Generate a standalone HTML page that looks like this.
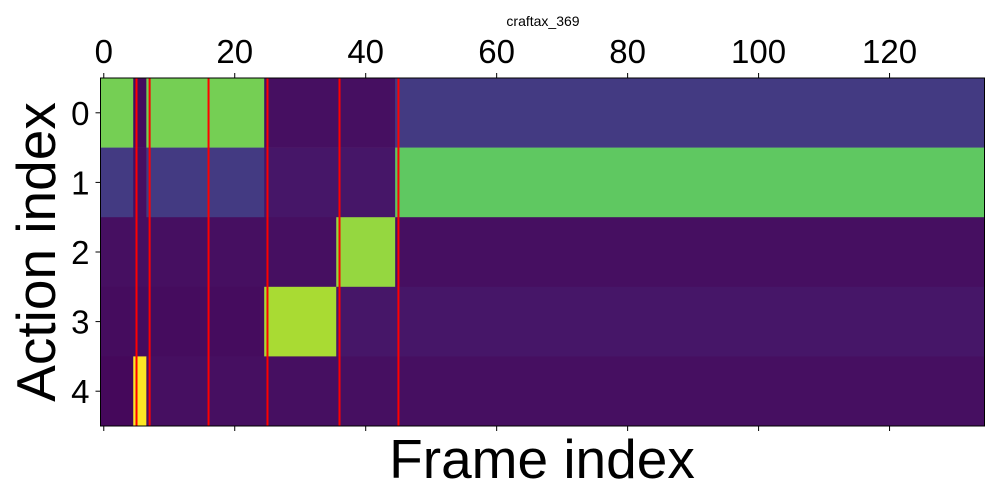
<!DOCTYPE html>
<html><head><meta charset="utf-8"><style>
html,body{margin:0;padding:0;background:#fff;width:1000px;height:500px;overflow:hidden}
svg text{font-family:"Liberation Sans","DejaVu Sans",sans-serif;fill:#000}
</style></head><body>
<svg id="chart" width="1000" height="500">
<text x="543" y="26" font-size="14" text-anchor="middle">craftax_369</text>
<g id="cells"></g>
<g id="lines"></g>
<rect x="100.5" y="78" width="884" height="348" fill="none" stroke="#000" stroke-width="1"/>
<g id="axes"></g>
<text x="542" y="478" font-size="55" text-anchor="middle">Frame index</text>
<text transform="translate(55,252) rotate(-90)" font-size="55" text-anchor="middle">Action index</text>
</svg>
<script>
// run-length rows: [value, count]
const row0 = [[0.79,5],[0.03,2],[0.79,18],[0.04,20],[0.17,90]];
const row1 = [[0.17,5],[0.04,2],[0.17,18],[0.06,20],[0.75,90]];
const row2 = [[0.04,36],[0.84,9],[0.04,90]];
const row3 = [[0.03,25],[0.87,11],[0.06,99]];
const row4 = [[0.02,5],[1.0,2],[0.04,128]];
const rows = [row0,row1,row2,row3,row4];
const eventFrames = [5,7,16,25,36,45];
const xTicks = [0,20,40,60,80,100,120];
const yTicks = [0,1,2,3,4];
const nFrames = 135;

const L=100.5,R=984.5,T=78,B=426;
const xs = f => L + (f+0.5)*(R-L)/nFrames;
const ys = r => T + (r+0.5)*(B-T)/rows.length;
const cw=(R-L)/nFrames, rh=(B-T)/rows.length;

const vir=[[68,1,84],[72,36,117],[65,68,135],[53,95,141],[42,120,142],[33,145,140],[34,168,132],[68,191,112],[122,209,81],[189,223,38],[253,231,37]];
function viridis(v){v=Math.max(0,Math.min(1,v));const p=v*10,i=Math.min(9,Math.floor(p)),t=p-i;
 const c=vir[i].map((a,k)=>Math.round(a+(vir[i+1][k]-a)*t));return `rgb(${c})`;}

const NS="http://www.w3.org/2000/svg";
const cells=document.getElementById('cells');
rows.forEach((row,r)=>{let f=0;row.forEach(([v,n])=>{
 const el=document.createElementNS(NS,'rect');
 
 
 el.setAttribute('x',xs(f)-cw/2);el.setAttribute('width',cw*n+0.3);
 el.setAttribute('y',ys(r)-rh/2);el.setAttribute('height',rh+0.3);
 el.setAttribute('fill',viridis(v));cells.appendChild(el);f+=n;});});

const lines=document.getElementById('lines');
eventFrames.forEach(f=>{const el=document.createElementNS(NS,'line');
 
 
 el.setAttribute('x1',xs(f));el.setAttribute('x2',xs(f));el.setAttribute('y1',T);el.setAttribute('y2',B);
 el.setAttribute('stroke','#f00');el.setAttribute('stroke-width','2');lines.appendChild(el);});

const axes=document.getElementById('axes');
xTicks.forEach(t=>{const x=xs(t);
 [[T,T-5],[B,B+5]].forEach(([a,b])=>{const el=document.createElementNS(NS,'line');
  
  
  el.setAttribute('x1',x);el.setAttribute('x2',x);el.setAttribute('y1',a);el.setAttribute('y2',b);el.setAttribute('stroke','#000');axes.appendChild(el);});
 const tx=document.createElementNS(NS,'text');
 
 
 tx.setAttribute('x',x);tx.setAttribute('y',T-15);tx.setAttribute('font-size','33');tx.setAttribute('text-anchor','middle');
 tx.textContent=t;axes.appendChild(tx);});
yTicks.forEach(t=>{const y=ys(t);
 const el=document.createElementNS(NS,'line');
 
 
 el.setAttribute('x1',L-5);el.setAttribute('x2',L);el.setAttribute('y1',y);el.setAttribute('y2',y);el.setAttribute('stroke','#000');axes.appendChild(el);
 const tx=document.createElementNS(NS,'text');
 
 
 tx.setAttribute('x',L-11);tx.setAttribute('y',y+12);tx.setAttribute('font-size','33');tx.setAttribute('text-anchor','end');
 tx.textContent=t;axes.appendChild(tx);});
</script>
</body></html>
